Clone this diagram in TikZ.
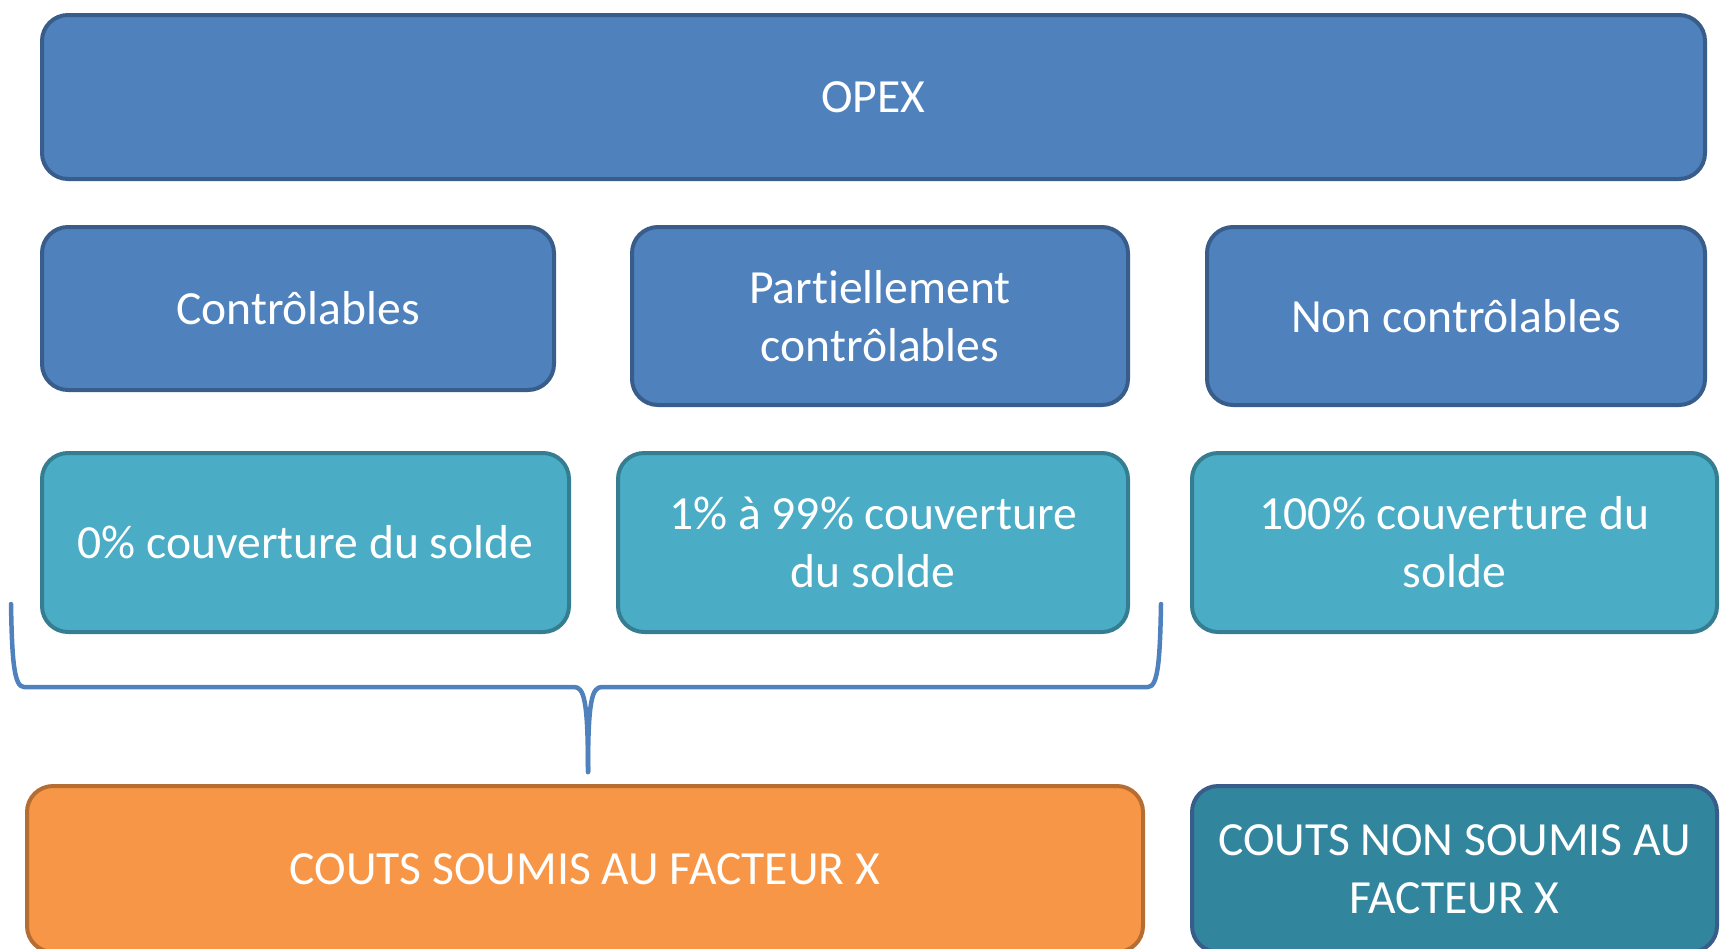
\documentclass[tikz,border=0pt]{standalone}
\usepackage{fontspec}
\setmainfont{Carlito}[RawFeature={-liga;-clig;-calt;-dlig;-rlig}]
\definecolor{bluefill}{HTML}{4F81BD}
\definecolor{blueline}{HTML}{385D8A}
\definecolor{tealfill}{HTML}{4BACC6}
\definecolor{tealline}{HTML}{357D91}
\definecolor{orangefill}{HTML}{F79646}
\definecolor{orangeline}{HTML}{B66D31}
\definecolor{darktealfill}{HTML}{31859C}
\tikzset{
  basebox/.style={rectangle, rounded corners=26pt, line width=4pt, text=white,
    align=center, inner sep=0pt,
    font=\fontsize{47.6}{58}\selectfont},
  bluebox/.style={basebox, draw=blueline, fill=bluefill},
  tealbox/.style={basebox, draw=tealline, fill=tealfill},
  orangebox/.style={basebox, draw=orangeline, fill=orangefill},
  darkbox/.style={basebox, draw=blueline, fill=darktealfill},
  bracestyle/.style={draw=bluefill, line width=4.5pt, line join=round, line cap=round}
}
\begin{document}
\begin{tikzpicture}[x=1pt,y=-1pt]
\useasboundingbox (0,0) rectangle (1721,948);
\node[bluebox, minimum width=1663pt, minimum height=164pt] (opex) at (873.5,97) {OPEX};
\node[bluebox, minimum width=512pt, minimum height=163pt] (ctrl) at (298,308.5) {Contrôlables};
\node[bluebox, minimum width=496pt, minimum height=178pt] (part) at (880,316) {Part\kern0pt iellement\\contrôlables};
\node[bluebox, minimum width=498pt, minimum height=178pt] (nonc) at (1456,316) {Non contrôlables};
\node[tealbox, minimum width=527pt, minimum height=179pt] (zero) at (305.5,542.5) {0\% couverture du solde};
\node[tealbox, minimum width=510pt, minimum height=179pt] (mid) at (873,542.5) {1\% à 99\% couverture\\du solde};
\node[tealbox, minimum width=525pt, minimum height=179pt] (full) at (1454.5,542.5) {100\% couverture du\\solde};
\node[orangebox, minimum width=1116pt, minimum height=166pt] (soumis) at (585,869) {COUTS SOUMIS AU FACTEUR X};
\node[darkbox, minimum width=525pt, minimum height=166pt] (nonsoumis) at (1454.5,869) {COUTS NON SOUMIS AU\\FACTEUR X};
\coordinate (bl) at (11,604);
\coordinate (br) at (1161,604);
\coordinate (tip) at (588,772);
\draw[bracestyle] (bl) .. controls (12,660) and (14,687) .. (24,687) -- (574,687)
  .. controls (584,687) and (588,700) .. (tip);
\draw[bracestyle] (br) .. controls (1160,660) and (1158,687) .. (1148,687) -- (602,687)
  .. controls (592,687) and (588,700) .. (tip);
\end{tikzpicture}
\end{document}
